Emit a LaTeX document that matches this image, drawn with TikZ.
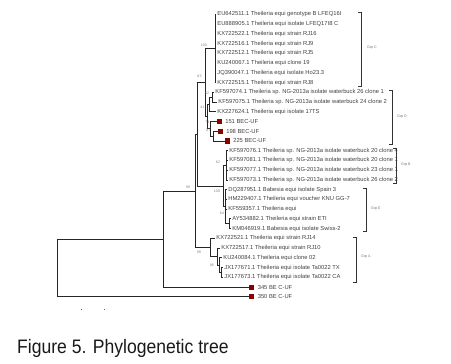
\documentclass[tikz,border=0pt]{standalone}
\usepackage{fontspec}
\setmainfont{Liberation Sans}
\usepackage{graphicx}
\begin{document}
\begin{tikzpicture}[x=1pt,y=-1pt,
  br/.style={draw=black!85,line width=0.75pt},
  lf/.style={anchor=west,inner sep=0pt,font=\fontsize{5.8}{6}\selectfont,text=black!75},
  bsl/.style={inner sep=0pt,font=\fontsize{3.6}{4}\selectfont,text=black!50},
  grpl/.style={anchor=west,inner sep=0pt,font=\fontsize{3.6}{4}\selectfont,text=black!55},
  brk/.style={draw=black!80,line width=0.8pt},
  sq/.style={fill=red!55!black,draw=none,minimum size=5.2pt,inner sep=0pt,anchor=west}]
\useasboundingbox (0,0) rectangle (451,364);
% internal nodes
\coordinate (root) at (57,267.8);
\coordinate (N1) at (163,238.9);
\coordinate (N2) at (195,190.9);
\coordinate (X) at (197,134.3);
\coordinate (n83) at (205,82.6);
\coordinate (GC) at (215,48.55);
\coordinate (dR) at (207,116.7);
\coordinate (d41) at (209,104.5);
\coordinate (dA) at (212,97.2);
\coordinate (d74) at (210,128.8);
\coordinate (d87) at (213,136.15);
\coordinate (Y) at (223,186);
\coordinate (GB) at (226,165.3);
\coordinate (GE) at (225,206.7);
\coordinate (AK) at (229,223.7);
\coordinate (R0) at (210,247.4);
\coordinate (R1) at (217,256.5);
\coordinate (R2) at (219,265.1);
\coordinate (R3) at (221,272.35);
% leaf tips
\coordinate (L1) at (216,14.5);
\coordinate (L2) at (216,24.2);
\coordinate (L3) at (216,34.0);
\coordinate (L4) at (216,43.7);
\coordinate (L5) at (216,53.4);
\coordinate (L6) at (216,63.2);
\coordinate (L7) at (216,72.9);
\coordinate (L8) at (216,82.6);
\coordinate (L9) at (214,92.3);
\coordinate (L10) at (217,102.1);
\coordinate (L11) at (216,111.8);
\coordinate (L12) at (217,121.5);
\coordinate (L13) at (218,131.3);
\coordinate (L14) at (225,141.0);
\coordinate (L15) at (228,150.7);
\coordinate (L16) at (228,160.5);
\coordinate (L17) at (228,170.2);
\coordinate (L18) at (228,179.9);
\coordinate (L19) at (227,189.6);
\coordinate (L20) at (227,199.4);
\coordinate (L21) at (227,209.1);
\coordinate (L22) at (231,218.8);
\coordinate (L23) at (231,228.6);
\coordinate (L24) at (215,238.3);
\coordinate (L25) at (220,248.0);
\coordinate (L26) at (222,257.8);
\coordinate (L27) at (223,267.5);
\coordinate (L28) at (223,277.2);
\coordinate (L29) at (249,287.6);
\coordinate (L30) at (249,296.7);
% branches
\draw[br] (root) |- (N1); \draw[br] (root) |- (L30);
\draw[br] (N1) |- (N2); \draw[br] (N1) |- (L29);
\draw[br] (N2) |- (X); \draw[br] (N2) |- (R0);
\draw[br] (X) |- (n83); \draw[br] (X) |- (Y);
\draw[br] (n83) |- (GC); \draw[br] (n83) |- (dR);
\foreach \i in {1,...,8} {\draw[br] (GC) |- (L\i);}
\draw[br] (dR) |- (d41); \draw[br] (dR) |- (d74);
\draw[br] (d41) |- (dA); \draw[br] (d41) |- (L11);
\draw[br] (dA) |- (L9); \draw[br] (dA) |- (L10);
\draw[br] (d74) |- (L12); \draw[br] (d74) |- (d87);
\draw[br] (d87) |- (L13); \draw[br] (d87) |- (L14);
\draw[br] (Y) |- (GB); \draw[br] (Y) |- (GE);
\foreach \i in {15,...,18} {\draw[br] (GB) |- (L\i);}
\foreach \i in {19,20,21} {\draw[br] (GE) |- (L\i);}
\draw[br] (GE) |- (AK);
\draw[br] (AK) |- (L22); \draw[br] (AK) |- (L23);
\draw[br] (R0) |- (L24); \draw[br] (R0) |- (R1);
\draw[br] (R1) |- (L25); \draw[br] (R1) |- (R2);
\draw[br] (R2) |- (L26); \draw[br] (R2) |- (R3);
\draw[br] (R3) |- (L27); \draw[br] (R3) |- (L28);
% leaf labels
\node[lf] (t1) at ([xshift=1.2pt]L1) {EU642511.1 Theileria equi genotype B LFEQ16I};
\node[lf] (t2) at ([xshift=1.2pt]L2) {EU888905.1 Theileria equi isolate LFEQ17I8 C};
\node[lf] (t3) at ([xshift=1.2pt]L3) {KX722522.1 Theileria equi strain RJ16};
\node[lf] (t4) at ([xshift=1.2pt]L4) {KX722516.1 Theileria equi strain RJ9};
\node[lf] (t5) at ([xshift=1.2pt]L5) {KX722512.1 Theileria equi strain RJ5};
\node[lf] (t6) at ([xshift=1.2pt]L6) {KU240067.1 Theileria equi clone 19};
\node[lf] (t7) at ([xshift=1.2pt]L7) {JQ390047.1 Theileria equi isolate Ho23.3};
\node[lf] (t8) at ([xshift=1.2pt]L8) {KX722515.1 Theileria equi strain RJ8};
\node[lf] (t9) at ([xshift=1.2pt]L9) {KF597074.1 Theileria sp. NG-2013a isolate waterbuck 26 clone 1};
\node[lf] (t10) at ([xshift=1.2pt]L10) {KF597075.1 Theileria sp. NG-2013a isolate waterbuck 24 clone 2};
\node[lf] (t11) at ([xshift=1.2pt]L11) {KX227624.1 Theileria equi isolate 17TS};
\node[sq] (s12) at (L12) {}; \node[lf] (t12) at ([xshift=2.5pt]s12.east) {151 BEC-UF};
\node[sq] (s13) at (L13) {}; \node[lf] (t13) at ([xshift=2.5pt]s13.east) {198 BEC-UF};
\node[sq] (s14) at (L14) {}; \node[lf] (t14) at ([xshift=2.5pt]s14.east) {225 BEC-UF};
\node[lf] (t15) at ([xshift=1.2pt]L15) {KF597076.1 Theileria sp. NG-2013a isolate waterbuck 20 clone 4};
\node[lf] (t16) at ([xshift=1.2pt]L16) {KF597081.1 Theileria sp. NG-2013a isolate waterbuck 20 clone 1};
\node[lf] (t17) at ([xshift=1.2pt]L17) {KF597077.1 Theileria sp. NG-2013a isolate waterbuck 23 clone 1};
\node[lf] (t18) at ([xshift=1.2pt]L18) {KF597073.1 Theileria sp. NG-2013a isolate waterbuck 26 clone 2};
\node[lf] (t19) at ([xshift=1.2pt]L19) {DQ287951.1 Babesia equi isolate Spain 3};
\node[lf] (t20) at ([xshift=1.2pt]L20) {HM229407.1 Theileria equi voucher KNU GG-7};
\node[lf] (t21) at ([xshift=1.2pt]L21) {KF559357.1 Theileria equi};
\node[lf] (t22) at ([xshift=1.2pt]L22) {AY534882.1 Theileria equi strain ETI};
\node[lf] (t23) at ([xshift=1.2pt]L23) {KM046919.1 Babesia equi isolate Swiss-2};
\node[lf] (t24) at ([xshift=1.2pt]L24) {KX722521.1 Theileria equi strain RJ14};
\node[lf] (t25) at ([xshift=1.2pt]L25) {KX722517.1 Theileria equi strain RJ10};
\node[lf] (t26) at ([xshift=1.2pt]L26) {KU240084.1 Theileria equi clone 02};
\node[lf] (t27) at ([xshift=1.2pt]L27) {JX177671.1 Theileria equi isolate Ta0022 TX};
\node[lf] (t28) at ([xshift=1.2pt]L28) {JX177673.1 Theileria equi isolate Ta0022 CA};
\node[sq] (s29) at (L29) {}; \node[lf] (t29) at ([xshift=3pt]s29.east) {345 BE C-UF};
\node[sq] (s30) at (L30) {}; \node[lf] (t30) at ([xshift=3pt]s30.east) {350 BE C-UF};
% bootstrap values
\node[bsl] (b1) at (204,45.5) {100};
\node[bsl] (b2) at (199.5,76.5) {83};
\node[bsl] (b3) at (207,93.5) {42};
\node[bsl] (b4) at (202.5,107) {41};
\node[bsl] (b5) at (207.3,122.7) {74};
\node[bsl] (b6) at (208.3,130.2) {87};
\node[bsl] (b7) at (218,162) {62};
\node[bsl] (b8) at (188,187.5) {99};
\node[bsl] (b9) at (217,191.5) {100};
\node[bsl] (b10) at (222,213) {64};
\node[bsl] (b11) at (199,252.5) {99};
\node[bsl] (b12) at (212,265) {96};
% group brackets
\coordinate (cT) at (361,12); \coordinate (cB) at (361,86);
\draw[brk] ([xshift=-3pt]cT) -- (cT) -- (cB) -- ([xshift=-3pt]cB);
\node[grpl] (gC) at (367,48) {Grp C};
\coordinate (dT) at (392,90); \coordinate (dB) at (392,144);
\draw[brk] ([xshift=-3pt]dT) -- (dT) -- (dB) -- ([xshift=-3pt]dB);
\node[grpl] (gD) at (397,117) {Grp D};
\coordinate (bT) at (396,148); \coordinate (bB) at (396,183);
\draw[brk] ([xshift=-3pt]bT) -- (bT) -- (bB) -- ([xshift=-3pt]bB);
\node[grpl] (gB) at (401,165) {Grp B};
\coordinate (eT) at (366,188); \coordinate (eB) at (366,231);
\draw[brk] ([xshift=-3pt]eT) -- (eT) -- (eB) -- ([xshift=-3pt]eB);
\node[grpl] (gE) at (371,209) {Grp E};
\coordinate (aT) at (356,237); \coordinate (aB) at (356,282);
\draw[brk] ([xshift=-3pt]aT) -- (aT) -- (aB) -- ([xshift=-3pt]aB);
\node[grpl] (gA) at (361,257) {Grp A};
% scale marks
\fill[black!60] (80.5,309) rectangle (81.5,310.2);
\fill[black!60] (103.5,309) rectangle (104.5,310.2);
% caption
\node[anchor=base west,inner sep=0pt,text=black!90] (cap) at (17,353)
  {\scalebox{0.9}[1]{\fontsize{19.5}{22}\selectfont Figure 5. Phylogenetic tree}};
\end{tikzpicture}
\end{document}
